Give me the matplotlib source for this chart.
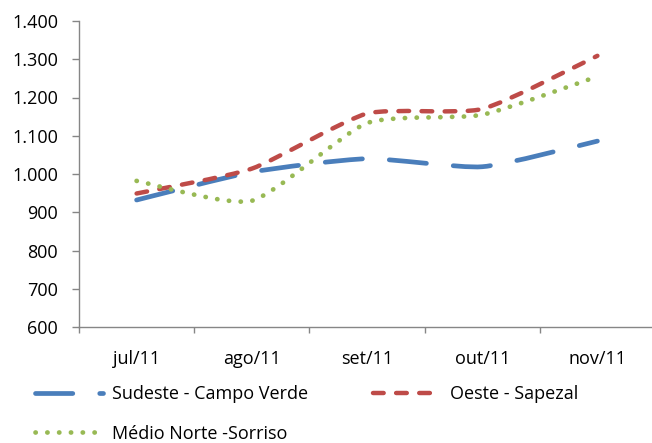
import numpy as np
import matplotlib
matplotlib.use('Agg')
import matplotlib.pyplot as plt
from matplotlib.path import Path
from matplotlib.patches import PathPatch
from matplotlib.lines import Line2D
from matplotlib.ticker import FuncFormatter, FixedLocator

months = ["jul/11", "ago/11", "set/11", "out/11", "nov/11"]
sudeste = [932, 1005, 1040, 1019, 1086]
oeste = [949, 1014, 1158, 1170, 1309]
medio_norte = [982, 930, 1133, 1155, 1255]

series_names = ["Sudeste - Campo Verde", "Oeste - Sapezal", "Médio Norte -Sorriso"]

plt.rcParams['font.family'] = ['Open Sans', 'DejaVu Sans']
FS = 13


def smooth_path(xs, ys, k=0.1):
    # bezier through the points, like the "smoothed line" option of a spreadsheet
    pts = np.column_stack([xs, ys]).astype(float)
    n = len(pts)
    verts = [pts[0]]
    codes = [Path.MOVETO]
    for i in range(n - 1):
        p0 = pts[i - 1] if i > 0 else pts[i]
        p1 = pts[i]
        p2 = pts[i + 1]
        p3 = pts[i + 2] if i + 2 < n else pts[i + 1]
        verts += [p1 + (p2 - p0) * k, p2 - (p3 - p1) * k, p2]
        codes += [Path.CURVE4] * 3
    return Path(verts, codes)


fig = plt.figure(figsize=(6.52, 4.43), dpi=100)
ax = fig.add_axes([79 / 652, 1 - 327 / 443, 576 / 652, 306 / 443])

x = np.arange(len(months))
styles = [
    dict(color='#4A7EBB', lw=3.4, ls=(0, (7.9, 5.7))),
    dict(color='#BE4B48', lw=3.2, ls=(0, (2.4, 2.8))),
    dict(color='#98B954', lw=3.4, ls=(0, (0.05, 2.45))),
]
handles = []
for vals, st, name in zip([sudeste, oeste, medio_norte], styles, series_names):
    patch = PathPatch(smooth_path(x, vals), fill=False, edgecolor=st['color'],
                      linewidth=st['lw'], linestyle=st['ls'], capstyle='round',
                      joinstyle='round')
    ax.add_patch(patch)
    handles.append(Line2D([], [], color=st['color'], lw=st['lw'], ls=st['ls'],
                          dash_capstyle='round', solid_capstyle='round', label=name))

ax.set_xlim(-0.5, len(months) - 0.5)
ax.set_ylim(600, 1400)
ax.set_yticks(np.arange(600, 1401, 100))
ax.yaxis.set_major_formatter(FuncFormatter(lambda v, p: f"{v:,.0f}".replace(",", ".")))

ax.xaxis.set_major_locator(FixedLocator(np.arange(-0.5, len(months), 1.0)))
ax.xaxis.set_major_formatter(FuncFormatter(lambda v, p: ""))
ax.xaxis.set_minor_locator(FixedLocator(x))
ax.set_xticklabels(months, minor=True)

for s in ['top', 'right']:
    ax.spines[s].set_visible(False)
for s in ['left', 'bottom']:
    ax.spines[s].set_color('#868686')
    ax.spines[s].set_linewidth(1.0)

ax.tick_params(axis='y', direction='out', length=5, width=1, color='#868686',
               pad=10, labelsize=FS, labelcolor='black')
ax.tick_params(axis='x', which='major', direction='out', length=4.5, width=1,
               color='#868686')
ax.tick_params(axis='x', which='minor', length=0, pad=16.5, labelsize=FS,
               labelcolor='black')

fig.legend(handles=[handles[0], handles[2], handles[1]],
           labels=[series_names[0], series_names[2], series_names[1]],
           ncol=2, loc='upper left', bbox_to_anchor=(35 / 652, 1 - 385 / 443),
           frameon=False, fontsize=FS, borderpad=0, borderaxespad=0,
           handlelength=3.75, handletextpad=0.5, labelspacing=1.2,
           columnspacing=3.6)

fig.savefig('out.png', dpi=100)
